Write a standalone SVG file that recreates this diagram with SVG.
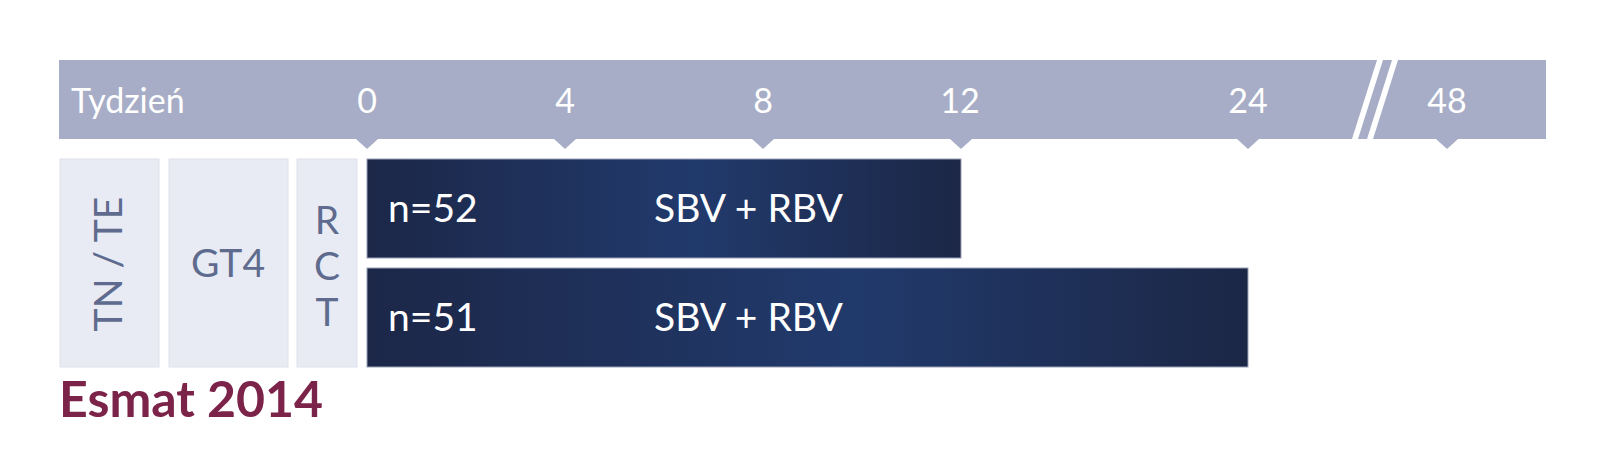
<svg xmlns="http://www.w3.org/2000/svg" width="1606" height="458" viewBox="0 0 1606 458">
<defs>
<style>
.hdr{fill:#a7adc6}
.tick{fill:#a7adc6}
.htxt{font-family:Lato,"Open Sans",sans-serif;font-size:34px;fill:#ffffff}
.box{fill:#e8ebf3;stroke:#dde1eb;stroke-width:1}
.btxt{font-family:Lato,"Open Sans",sans-serif;font-size:39px;fill:#5f6b8e}
.vert{writing-mode:vertical-rl;text-orientation:upright}
.bar{stroke:#9aa1b8;stroke-width:1}
.wtxt{font-family:Lato,"Open Sans",sans-serif;font-size:39px;fill:#ffffff}
.title{font-family:Lato,"Open Sans",sans-serif;font-size:50px;font-weight:bold;fill:#7b2349}
</style>
<linearGradient id="g" x1="0" y1="0" x2="1" y2="0">
<stop offset="0" stop-color="#1c2748"/>
<stop offset="0.55" stop-color="#213a6c"/>
<stop offset="1" stop-color="#1c2746"/>
</linearGradient>
</defs>
<rect width="1606" height="458" fill="#ffffff"/>
<g id="timeline">
<polygon class="hdr" points="59,60 1377,60 1352,139 59,139"/>
<polygon class="hdr" points="1383,60 1392,60 1367,139 1358,139"/>
<polygon class="hdr" points="1398,60 1546,60 1546,139 1373,139"/>
<polygon class="tick" points="356,139 378,139 367,149"/>
<polygon class="tick" points="554,139 576,139 565,149"/>
<polygon class="tick" points="752,139 774,139 763,149"/>
<polygon class="tick" points="950,139 972,139 961,149"/>
<polygon class="tick" points="1237,139 1259,139 1248,149"/>
<polygon class="tick" points="1436,139 1458,139 1447,149"/>
<text class="htxt" x="71" y="113">Tydzień</text>
<text class="htxt" x="367" y="113" text-anchor="middle">0</text>
<text class="htxt" x="565" y="113" text-anchor="middle">4</text>
<text class="htxt" x="763" y="113" text-anchor="middle">8</text>
<text class="htxt" x="960" y="113" text-anchor="middle">12</text>
<text class="htxt" x="1248" y="113" text-anchor="middle">24</text>
<text class="htxt" x="1447" y="113" text-anchor="middle">48</text>
</g>
<g id="tnte">
<rect class="box" x="60" y="159" width="99" height="208"/>
<text class="btxt" transform="translate(122,264) rotate(-90)" text-anchor="middle">TN / TE</text>
</g>
<g id="gt4">
<rect class="box" x="169" y="159" width="119" height="208"/>
<text class="btxt" x="228" y="277" text-anchor="middle">GT4</text>
</g>
<g id="rct">
<rect class="box" x="297" y="159" width="60" height="208"/>
<text class="btxt vert" x="327" y="196">RCT</text>
</g>
<g id="arm1">
<rect class="bar" x="367" y="159" width="594" height="99" fill="url(#g)"/>
<text class="wtxt" x="388" y="222">n=52</text>
<text class="wtxt" x="654" y="222">SBV + RBV</text>
</g>
<g id="arm2">
<rect class="bar" x="367" y="268" width="881" height="99" fill="url(#g)"/>
<text class="wtxt" x="388" y="331">n=51</text>
<text class="wtxt" x="654" y="331">SBV + RBV</text>
</g>
<g id="connectors"></g>
<text class="title" x="59" y="417">Esmat 2014</text>
</svg>
